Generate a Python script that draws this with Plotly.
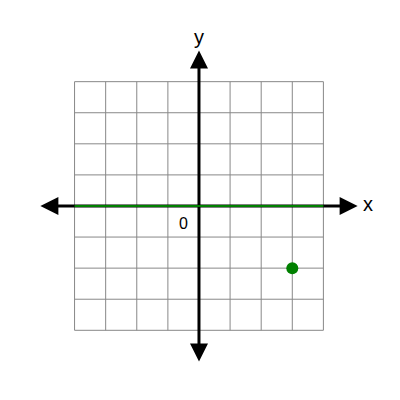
import plotly.graph_objects as go

grid_ticks = [-4, -3, -2, -1, 0, 1, 2, 3, 4]
line_x = [-4, 4]
line_y = [0, 0]
point_x = [3]
point_y = [-2]
axis_end = 5.1

fig = go.Figure()

# grid
for t in grid_ticks:
    fig.add_trace(go.Scatter(x=[t, t], y=[-4, 4], mode="lines",
                             line=dict(color="#888", width=1), hoverinfo="skip"))
    fig.add_trace(go.Scatter(x=[-4, 4], y=[t, t], mode="lines",
                             line=dict(color="#888", width=1), hoverinfo="skip"))

# axis lines
fig.add_trace(go.Scatter(x=[-axis_end + 0.3, axis_end - 0.3], y=[0, 0], mode="lines",
                         line=dict(color="black", width=3)))
fig.add_trace(go.Scatter(x=[0, 0], y=[-axis_end + 0.4, axis_end - 0.4], mode="lines",
                         line=dict(color="black", width=3)))

# arrowheads
for (x, y, ax, ay) in [(axis_end, 0, 4.6, 0), (-axis_end, 0, -4.6, 0),
                       (0, axis_end - 0.1, 0, 4.5), (0, -axis_end + 0.1, 0, -4.5)]:
    fig.add_annotation(x=x, y=y, ax=ax, ay=ay, xref="x", yref="y", axref="x", ayref="y",
                       showarrow=True, arrowhead=2, arrowsize=1.2, arrowwidth=3,
                       arrowcolor="black", text="")

fig.add_trace(go.Scatter(x=line_x, y=line_y, mode="lines",
                         line=dict(color="green", width=2)))
fig.add_trace(go.Scatter(x=point_x, y=point_y, mode="markers",
                         marker=dict(color="green", size=12)))

fig.add_annotation(x=5.2, y=0.05, text="x", showarrow=False, xanchor="left",
                   font=dict(size=20, color="black"))
fig.add_annotation(x=0, y=5.45, text="y", showarrow=False,
                   font=dict(size=20, color="black"))
fig.add_annotation(x=-0.5, y=-0.55, text="0", showarrow=False,
                   font=dict(size=16, color="black"))

fig.update_layout(width=400, height=400, showlegend=False,
                  margin=dict(l=0, r=0, t=0, b=0),
                  plot_bgcolor="white", paper_bgcolor="white",
                  font=dict(family="Liberation Sans"))
fig.update_xaxes(range=[-6.14, 6.72], visible=False)
fig.update_yaxes(range=[-6.5, 6.37], visible=False)

fig.write_html("out.html")
